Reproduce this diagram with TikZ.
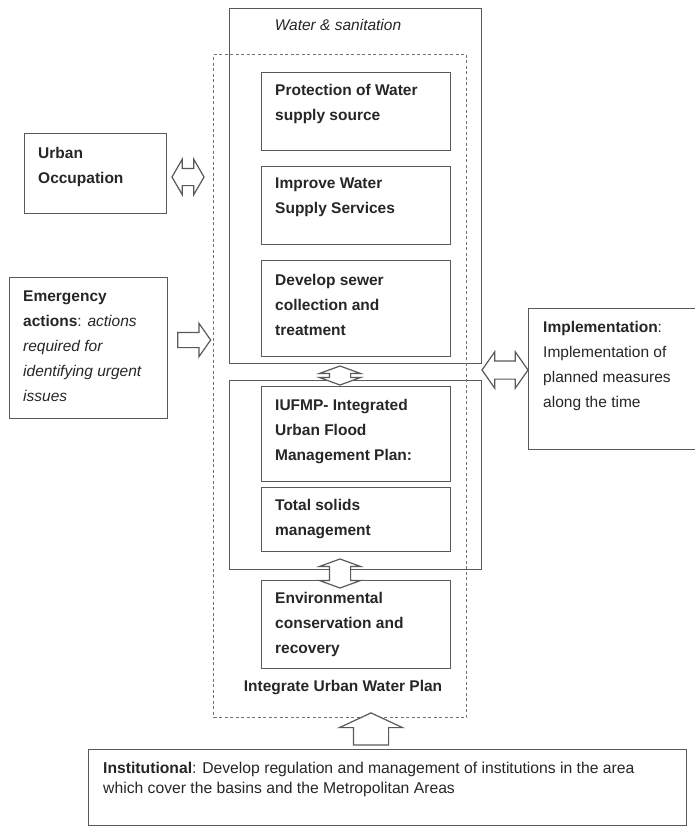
\documentclass[tikz,border=0pt]{standalone}
\usepackage{fontspec}
\setmainfont{Liberation Sans}
\usetikzlibrary{shapes.arrows}

\tikzset{
  box/.style={draw=black!65, line width=1.4pt, anchor=north west, inner sep=0pt},
  dashbox/.style={draw=black!55, line width=1.4pt, dash pattern=on 3pt off 2.5pt, anchor=north west, inner sep=0pt},
  txt/.style={anchor=north west, align=left, inner sep=0pt, text=black!85,
    font=\fontsize{15.5}{25}\selectfont},
  btxt/.style={txt, font=\fontsize{15.5}{25}\selectfont\bfseries},
  blockarr/.style={draw=black!65, line width=1.2pt, fill=white, inner xsep=0pt},
  uparr/.style={draw=black!65, line width=1.2pt, fill=white, inner ysep=0pt, shape border rotate=90},
}

\begin{document}
\begin{tikzpicture}[x=1pt,y=-1pt]
  \useasboundingbox (0,0) rectangle (695,827);

  % outer frames
  \node[box, minimum width=252pt, minimum height=355pt] (wsan) at (229,8) {};
  \node[txt, font=\fontsize{15.5}{25}\selectfont\itshape, anchor=center] (wsanT) at (338,25) {Water \& sanitation};
  \node[box, minimum width=252pt, minimum height=189pt] (flood) at (229,380) {};
  \node[dashbox, minimum width=253pt, minimum height=663pt] (iuwp) at (213,54) {};
  \node[btxt, anchor=center] (iuwpT) at (343,688) {Integrate Urban Water Plan};

  % water & sanitation measures
  \node[box, minimum width=189pt, minimum height=78pt] (prot) at (261,72) {};
  \node[btxt] (protT) at ([xshift=14pt,yshift=-12pt]prot.north west) {Protection of Water\\supply source};
  \node[box, minimum width=189pt, minimum height=78pt] (impr) at (261,166) {};
  \node[btxt] (imprT) at ([xshift=14pt,yshift=-12pt]impr.north west) {Improve Water\\Supply Services};
  \node[box, minimum width=189pt, minimum height=96pt] (sewer) at (261,260) {};
  \node[btxt] (sewerT) at ([xshift=14pt,yshift=-14pt]sewer.north west) {Develop sewer\\collection and\\treatment};

  % flood group
  \node[box, minimum width=189pt, minimum height=95pt] (iufmp) at (261,386) {};
  \node[btxt] (iufmpT) at ([xshift=14pt,yshift=-13pt]iufmp.north west) {IUFMP- Integrated\\Urban Flood\\Management Plan:};
  \node[box, minimum width=189pt, minimum height=64pt] (solids) at (261,487) {};
  \node[btxt] (solidsT) at ([xshift=14pt,yshift=-12pt]solids.north west) {Total solids\\management};
  \node[box, minimum width=189pt, minimum height=88pt] (envir) at (261,580) {};
  \node[btxt] (envirT) at ([xshift=14pt,yshift=-12pt]envir.north west) {Environmental\\conservation and\\recovery};

  % side boxes
  \node[box, minimum width=142pt, minimum height=80pt] (occ) at (24,133) {};
  \node[btxt] (occT) at ([xshift=14pt,yshift=-14pt]occ.north west) {Urban\\Occupation};
  \node[box, minimum width=158pt, minimum height=141pt] (emerg) at (9,277) {};
  \node[txt] (emergT) at ([xshift=14pt,yshift=-14pt]emerg.north west)
    {\textbf{Emergency}\\\textbf{actions}: \textit{actions}\\\textit{required for}\\\textit{identifying urgent}\\\textit{issues}};
  \node[box, minimum width=172pt, minimum height=141pt] (impl) at (528,308) {};
  \node[txt] (implT) at ([xshift=15pt,yshift=-13pt]impl.north west)
    {\textbf{Implementation}:\\Implementation of\\planned measures\\along the time};
  \node[box, minimum width=598pt, minimum height=76pt] (inst) at (88,749) {};
  \node[txt, font=\fontsize{15.7}{20}\selectfont] (instT) at ([xshift=15pt,yshift=-13pt]inst.north west)
    {\textbf{Institutional}: Develop regulation and management of institutions in the area\\which cover the basins and the Metropolitan Areas};

  % block arrows
  \node[blockarr, double arrow, minimum height=32pt, inner ysep=8pt,
    double arrow head extend=9pt, double arrow tip angle=120] (occA) at (188,177) {};
  \node[blockarr, single arrow, minimum height=33pt, inner ysep=7pt,
    single arrow head extend=9pt, single arrow tip angle=110] (emergA) at (191.5,340) {};
  \node[blockarr, double arrow, minimum height=46pt, inner ysep=8.5pt,
    double arrow head extend=9pt, double arrow tip angle=110] (implA) at (505,370) {};
  \node[uparr, double arrow, minimum height=19pt, inner xsep=10pt,
    double arrow head extend=10pt, double arrow tip angle=140] (floodA) at (340,375.5) {};
  \node[uparr, double arrow, minimum height=29pt, inner xsep=10pt,
    double arrow head extend=10pt, double arrow tip angle=140] (envirA) at (340,573.5) {};
  \node[uparr, single arrow, minimum height=32pt, inner xsep=17pt,
    single arrow head extend=14pt, single arrow tip angle=130] (instA) at (371,733) {};
\end{tikzpicture}
\end{document}
